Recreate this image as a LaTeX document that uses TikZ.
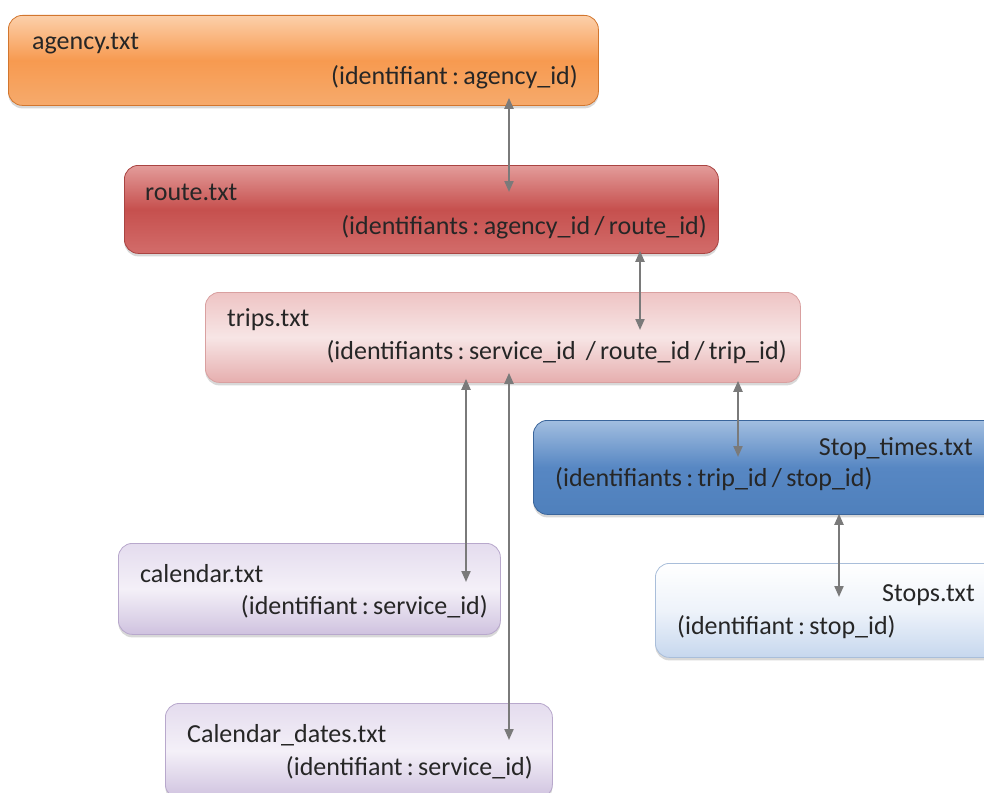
\documentclass[tikz,border=0pt]{standalone}
\usepackage{fontspec}
\setmainfont{Carlito}
\usetikzlibrary{shadows,arrows.meta,calc}

\definecolor{linkgray}{HTML}{7A7A7A}
\definecolor{txtgray}{HTML}{262626}
\definecolor{agTop}{HTML}{FCD0AA}\definecolor{agMid}{HTML}{F79A50}\definecolor{agBot}{HTML}{F6AA6C}\definecolor{agLine}{HTML}{D2762E}
\definecolor{roTop}{HTML}{E39C9A}\definecolor{roMid}{HTML}{C6504E}\definecolor{roBot}{HTML}{D26C6A}\definecolor{roLine}{HTML}{A94442}
\definecolor{trTop}{HTML}{EEC4C4}\definecolor{trMid}{HTML}{F7E5E5}\definecolor{trBot}{HTML}{E6AEAE}\definecolor{trLine}{HTML}{D9A0A0}
\definecolor{stTop}{HTML}{A2BEE0}\definecolor{stMid}{HTML}{5787C3}\definecolor{stBot}{HTML}{4F80BC}\definecolor{stLine}{HTML}{3A659B}
\definecolor{caTop}{HTML}{E4DCEE}\definecolor{caMid}{HTML}{F4F0F8}\definecolor{caBot}{HTML}{CFC2DF}\definecolor{caLine}{HTML}{B8A8CC}
\definecolor{spTop}{HTML}{FFFFFF}\definecolor{spMid}{HTML}{EEF3FA}\definecolor{spBot}{HTML}{C6D7EE}\definecolor{spLine}{HTML}{A9BEDA}

\begin{document}
\begin{tikzpicture}[x=1pt,y=-1pt,
  box/.style={rectangle, rounded corners=14pt, anchor=north west, inner sep=0pt,
    line width=0.8pt,
    drop shadow={shadow xshift=0pt, shadow yshift=-3pt, opacity=0.3}},
  txt/.style={font=\fontsize{26}{30}\selectfont, text=txtgray, inner sep=0pt},
  link/.style={draw=linkgray, line width=2pt,
    {Triangle[length=11pt,width=9pt]}-{Triangle[length=11pt,width=9pt]}}
]
\useasboundingbox[fill=white] (0,0) rectangle (984,792);

% boxes
\node[box, draw=agLine, top color=agTop, bottom color=agBot, middle color=agMid,
  minimum width=590pt, minimum height=90pt] (agency) at (8,15) {};
\node[box, draw=roLine, top color=roTop, bottom color=roBot, middle color=roMid,
  minimum width=594pt, minimum height=88pt] (route) at (124,165) {};
\node[box, draw=trLine, top color=trTop, bottom color=trBot, middle color=trMid,
  minimum width=595pt, minimum height=90pt] (trips) at (205,292) {};
\node[box, draw=stLine, top color=stTop, bottom color=stBot, middle color=stMid,
  minimum width=470pt, minimum height=94pt] (stoptimes) at (533,420) {};
\node[box, draw=caLine, top color=caTop, bottom color=caBot, middle color=caMid,
  minimum width=382pt, minimum height=91pt] (calendar) at (118,543) {};
\node[box, draw=spLine, top color=spTop, bottom color=spBot, middle color=spMid,
  minimum width=350pt, minimum height=94pt] (stops) at (655,563) {};
\node[box, draw=caLine, top color=caTop, bottom color=caBot, middle color=caMid,
  minimum width=387pt, minimum height=95pt] (caldates) at (165,703) {};

% labels
\node[txt, anchor=base west] (agencyN) at (32,50) {agency.txt};
\node[txt, anchor=base east] (agencyK) at (578,84) {(identifiant\,:\,agency\_id)};
\node[txt, anchor=base west] (routeN) at (145,200) {route.txt};
\node[txt, anchor=base east] (routeK) at (707,234) {(identifiants\,:\,agency\_id\,/\,route\_id)};
\node[txt, anchor=base west] (tripsN) at (227,326) {trips.txt};
\node[txt, anchor=base east] (tripsK) at (787,359) {(identifiants\,:\,service\_id\, /\,route\_id\,/\,trip\_id)};
\node[txt, anchor=base east] (stoptimesN) at (973,455) {Stop\_times.txt};
\node[txt, anchor=base west] (stoptimesK) at (555,486) {(identifiants\,:\,trip\_id\,/\,stop\_id)};
\node[txt, anchor=base west] (calendarN) at (140,582) {calendar.txt};
\node[txt, anchor=base east] (calendarK) at (488,614) {(identifiant\,:\,service\_id)};
\node[txt, anchor=base east] (stopsN) at (975,601) {Stops.txt};
\node[txt, anchor=base west] (stopsK) at (677,634) {(identifiant\,:\,stop\_id)};
\node[txt, anchor=base west] (caldatesN) at (187,742) {Calendar\_dates.txt};
\node[txt, anchor=base east] (caldatesK) at (533,775) {(identifiant\,:\,service\_id)};

% links between files
\draw[link] ($(agency.south west)+(501,-8)$) -- ($(route.north west)+(385,27)$);
\draw[link] ($(route.south west)+(516,-3)$) -- ($(trips.north west)+(435,38)$);
\draw[link] ($(trips.south west)+(261,-4)$) -- ($(calendar.north west)+(348,39)$);
\draw[link] ($(trips.south west)+(304,-10)$) -- ($(caldates.north west)+(344,37)$);
\draw[link] ($(trips.south west)+(533,-2)$) -- ($(stoptimes.north west)+(205,37)$);
\draw[link] ($(stoptimes.south west)+(306,-1)$) -- ($(stops.north west)+(184,34)$);
\end{tikzpicture}
\end{document}
